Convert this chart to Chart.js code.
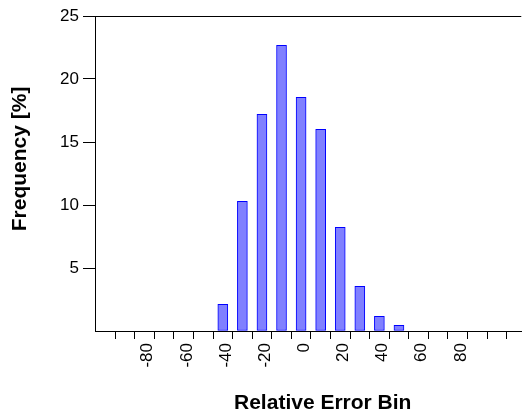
<!DOCTYPE html>
<html>
<head>
<meta charset="utf-8">
<script src="https://cdn.jsdelivr.net/npm/chart.js@4/dist/chart.umd.min.js"></script>
<style>
  html, body { margin: 0; padding: 0; background: #ffffff; }
  #wrap { width: 531px; height: 416px; position: relative; }
</style>
</head>
<body>
<div id="wrap"><canvas id="c" width="531" height="416"></canvas></div>
<script>
// ---- data ----
const binCenters = [-40, -30, -20, -10, 0, 10, 20, 30, 40, 50];
const frequency  = [2.12, 10.29, 17.2, 22.67, 18.55, 16.01, 8.23, 3.55, 1.17, 0.45];
const xTickMarks = [-95, -85, -75, -65, -55, -45, -35, -25, -15, -5, 5, 15, 25, 35, 45, 55, 65, 75, 85, 95, 105];
const xTickLabels = ['-80', '-60', '-40', '-20', '0', '20', '40', '60', '80'];
const yTickLabels = ['5', '10', '15', '20', '25'];
const xTitle = 'Relative Error Bin';
const yTitle = 'Frequency [%]';

const FONT = '"Liberation Sans", Arial, Helvetica, sans-serif';

new Chart(document.getElementById('c'), {
  type: 'bar',
  data: {
    datasets: [{
      data: binCenters.map((x, i) => ({ x: x, y: frequency[i] })),
      backgroundColor: 'rgb(128,128,255)',
      borderColor: 'rgb(0,0,255)',
      borderWidth: 1,
      borderSkipped: false,
      barThickness: 10
    }]
  },
  options: {
    responsive: false,
    animation: false,
    devicePixelRatio: 1,
    layout: { padding: { top: 16, right: 0, bottom: 0, left: 0 } },
    plugins: { legend: { display: false }, tooltip: { enabled: false } },
    scales: {
      x: {
        type: 'linear',
        offset: false,
        min: -105.3,
        max: 112.5,
        afterBuildTicks: s => { s.ticks = xTickMarks.map(v => ({ value: v })); },
        afterFit: s => { s.height = 85; },
        grid: { display: true, offset: false, drawOnChartArea: false, drawTicks: true, tickLength: 8, tickColor: '#000', lineWidth: 1 },
        border: { display: true, color: '#000', width: 1 },
        ticks: {
          autoSkip: false,
          minRotation: 90,
          maxRotation: 90,
          labelOffset: 13,
          padding: 4,
          color: '#000',
          font: { family: FONT, size: 17 },
          callback: v => { const s = String(v + 5); return xTickLabels.includes(s) ? s : ''; }
        },
        title: {
          display: true,
          text: '     ' + xTitle,
          color: '#000',
          font: { family: FONT, size: 21, weight: 'bold' },
          padding: { top: 0, bottom: 0 }
        }
      },
      y: {
        min: 0,
        max: 25,
        afterBuildTicks: s => { s.ticks = [0].concat(yTickLabels.map(Number)).map(v => ({ value: v })); },
        afterFit: s => { s.width = 95; },
        grid: {
          display: true,
          drawOnChartArea: true,
          drawTicks: true,
          tickLength: 12,
          lineWidth: 1,
          color: c => (c.tick && c.tick.value === 25) ? '#000' : 'rgba(0,0,0,0)',
          tickColor: c => (c.tick && c.tick.value === 0) ? 'rgba(0,0,0,0)' : '#000'
        },
        border: { display: true, color: '#000', width: 1 },
        ticks: {
          padding: 4,
          color: '#000',
          font: { family: FONT, size: 17 },
          callback: v => yTickLabels.includes(String(v)) ? String(v) : ''
        },
        title: {
          display: true,
          text: '     ' + yTitle,
          color: '#000',
          font: { family: FONT, size: 21, weight: 'bold' },
          padding: { top: 8, bottom: 0 }
        }
      }
    }
  }
});
</script>
</body>
</html>
